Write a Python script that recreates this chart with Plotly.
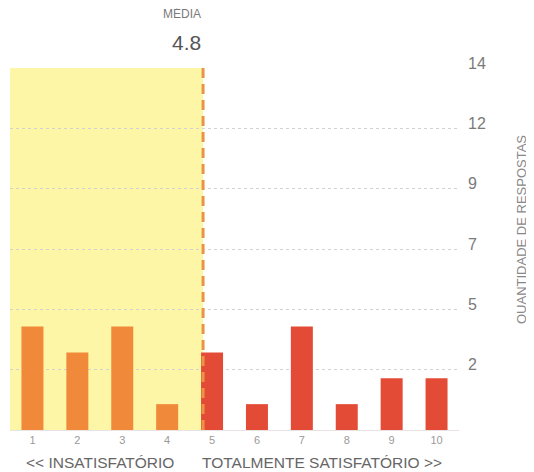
import plotly.graph_objects as go

# ── Data ──────────────────────────────────────────────────────────────────────
NOTAS     = [1, 2, 3, 4, 5, 6, 7, 8, 9, 10]
RESPOSTAS = [4, 3, 4, 1, 3, 1, 4, 1, 2, 2]
MEDIA     = 4.8
Y_MAX     = 14
Y_TICKTXT = ["2", "5", "7", "9", "12", "14"]

# ── Colors ────────────────────────────────────────────────────────────────────
C_ORANGE = "#F08A3A"
C_RED    = "#E34B37"
C_YELLOW = "#FCF6A6"
C_DASH   = "#EC9446"
C_GRID   = "#D2D2D2"
C_TICK   = "#7A7A7A"
C_LABEL  = "#666666"
FONT     = "Liberation Sans"

bar_colors = [C_ORANGE if n < MEDIA else C_RED for n in NOTAS]
y_tickvals = [Y_MAX / len(Y_TICKTXT) * (i + 1) for i in range(len(Y_TICKTXT))]

# page body has an 8px margin -> figure is 8px smaller and offset
W, H = 526, 464
PLOT_L, PLOT_R, PLOT_T, PLOT_B = 1.5, 451.5, 60, 422

fig = go.Figure()
fig.add_trace(go.Bar(
    x=NOTAS, y=RESPOSTAS,
    marker=dict(color=bar_colors, line=dict(width=0)),
    width=0.49,
    hoverinfo="x+y",
    showlegend=False,
))

# yellow band (below the mean) + dashed mean line
fig.add_shape(type="rect", xref="x", yref="y",
              x0=0.5, x1=MEDIA, y0=0, y1=Y_MAX,
              fillcolor=C_YELLOW, line=dict(width=0), layer="below")
fig.add_shape(type="line", xref="x", yref="y",
              x0=MEDIA, x1=MEDIA, y0=0, y1=Y_MAX,
              line=dict(color=C_DASH, width=3, dash="10px,6px"), layer="above")

def px_to_paper_x(px):
    return (px - PLOT_L) / (PLOT_R - PLOT_L)

def px_to_paper_y(py):
    return (PLOT_B - py) / (PLOT_B - PLOT_T)

ann = [
    dict(x=MEDIA, y=1, xref="x", yref="paper", yshift=45, xanchor="right", yanchor="bottom",
         text="MÉDIA", showarrow=False, font=dict(family=FONT, size=12, color=C_TICK)),
    dict(x=MEDIA, y=1, xref="x", yref="paper", yshift=12, xanchor="right", yanchor="bottom",
         text="4.8", showarrow=False, font=dict(family=FONT, size=21, color="#555555")),
    dict(x=px_to_paper_x(92), y=px_to_paper_y(454), xref="paper", yref="paper",
         xanchor="center", yanchor="middle",
         text="<< INSATISFATÓRIO", showarrow=False,
         font=dict(family=FONT, size=15.5, color=C_LABEL)),
    dict(x=px_to_paper_x(314), y=px_to_paper_y(454), xref="paper", yref="paper",
         xanchor="center", yanchor="middle",
         text="TOTALMENTE SATISFATÓRIO >>", showarrow=False,
         font=dict(family=FONT, size=15.5, color=C_LABEL)),
    dict(x=1, y=px_to_paper_y(222), xref="paper", yref="paper", xshift=62,
         xanchor="center", yanchor="middle",
         text="QUANTIDADE DE RESPOSTAS", textangle=-90, showarrow=False,
         font=dict(family=FONT, size=13, color="#888888")),
]

fig.update_layout(
    width=W, height=H,
    margin=dict(l=PLOT_L, r=W - PLOT_R, t=PLOT_T, b=H - PLOT_B, autoexpand=False),
    paper_bgcolor="white", plot_bgcolor="white",
    bargap=0.5,
    annotations=ann,
    font=dict(family=FONT),
)
fig.update_xaxes(
    range=[0.5, 10.5],
    tickvals=NOTAS, ticktext=[str(n) for n in NOTAS],
    tickfont=dict(family=FONT, size=11, color="#9A9A9A"),
    showgrid=False, zeroline=False,
    showline=True, linecolor="#E8E2E2", linewidth=1,
    ticks="", ticklabelstandoff=0,
)
fig.update_yaxes(
    range=[0, Y_MAX], side="right",
    tickvals=y_tickvals, ticktext=Y_TICKTXT,
    tickfont=dict(family=FONT, size=16, color=C_TICK),
    showgrid=True, gridcolor=C_GRID, griddash="dot", gridwidth=1,
    zeroline=False, showline=False, ticks="",
    ticklabelstandoff=8, ticklabelshift=-5,
)

fig.write_html("out.html")
